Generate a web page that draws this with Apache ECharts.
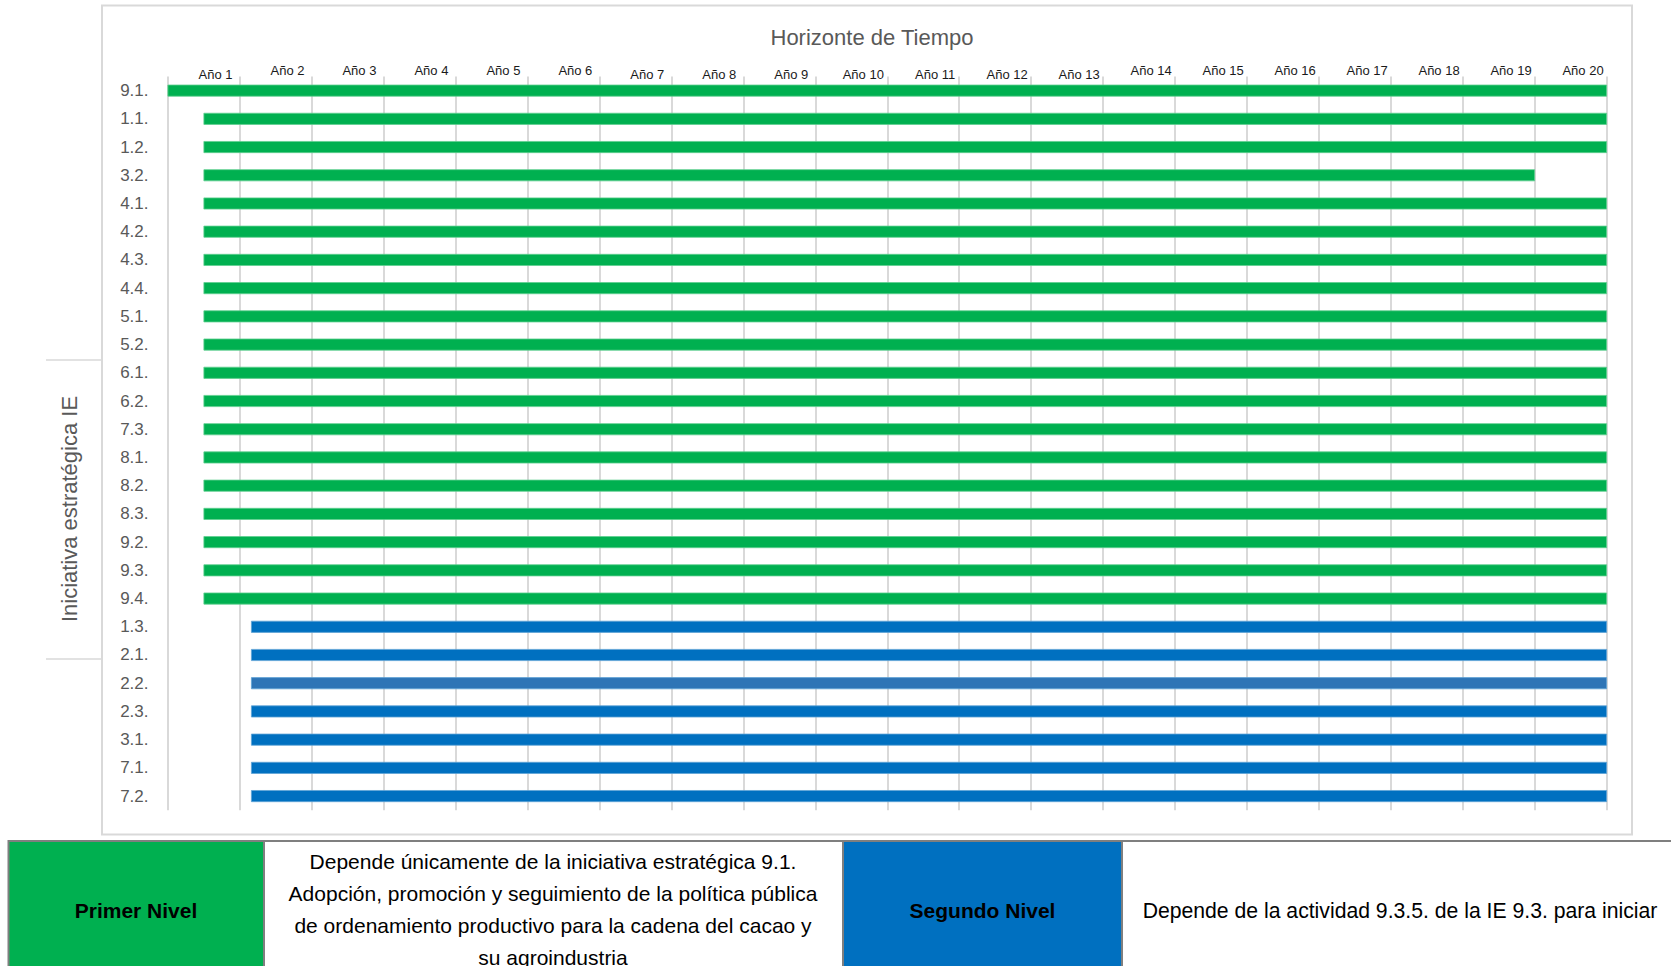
<!DOCTYPE html>
<html>
<head>
<meta charset="utf-8">
<title>Horizonte de Tiempo</title>
<script src="https://cdn.jsdelivr.net/npm/echarts@6/dist/echarts.min.js"></script>
<style>
    html, body {margin: 0; padding: 0; background: #fff;}
    #chart {width: 1671px; height: 966px;}
</style>
</head>
<body>
<div id="chart"></div>
<script>
    // iniciativas estrategicas, de arriba hacia abajo
    var iniciativas = ['9.1.', '1.1.', '1.2.', '3.2.', '4.1.', '4.2.', '4.3.', '4.4.', '5.1.', '5.2.',
        '6.1.', '6.2.', '7.3.', '8.1.', '8.2.', '8.3.', '9.2.', '9.3.', '9.4.',
        '1.3.', '2.1.', '2.2.', '2.3.', '3.1.', '7.1.', '7.2.'];
    // 1 = Primer Nivel, 2 = Segundo Nivel
    var nivel = [1, 1, 1, 1, 1, 1, 1, 1, 1, 1, 1, 1, 1, 1, 1, 1, 1, 1, 1,
        2, 2, 2, 2, 2, 2, 2];
    // inicio y fin en años
    var inicio = [0, 0.5, 0.5, 0.5, 0.5, 0.5, 0.5, 0.5, 0.5, 0.5, 0.5, 0.5, 0.5, 0.5, 0.5, 0.5, 0.5, 0.5, 0.5,
        1.16, 1.16, 1.16, 1.16, 1.16, 1.16, 1.16];
    var fin = [20, 20, 20, 19, 20, 20, 20, 20, 20, 20, 20, 20, 20, 20, 20, 20, 20, 20, 20,
        20, 20, 20, 20, 20, 20, 20];
    var anios = ['Año 1', 'Año 2', 'Año 3', 'Año 4', 'Año 5', 'Año 6', 'Año 7', 'Año 8', 'Año 9', 'Año 10',
        'Año 11', 'Año 12', 'Año 13', 'Año 14', 'Año 15', 'Año 16', 'Año 17', 'Año 18', 'Año 19', 'Año 20'];

    var verde = '#00b050';
    var azul = '#0070c0';
    var font = 'Liberation Sans, Arial, sans-serif';

    //etiquetas de año que van un poco mas abajo
    var bajos = {0: true, 6: true, 7: true, 8: true, 9: true, 10: true, 11: true, 12: true};

    var primer = [];
    var segundo = [];
    for (var i = 0; i < iniciativas.length; i++) {
        var dur = fin[i] - inicio[i];
        if (nivel[i] == 1) {
            primer.push(dur);
            segundo.push('-');
        } else {
            primer.push('-');
            if (iniciativas[i] == '2.2.') {
                segundo.push({value: dur, itemStyle: {color: '#2e75b6'}});
            } else {
                segundo.push(dur);
            }
        }
    }

    function anioAxis (abajo) {
        return {
            type: 'category',
            position: 'top',
            data: anios,
            boundaryGap: true,
            axisLine: {show: false},
            axisTick: {show: false},
            splitLine: {show: false},
            axisLabel: {
                interval: 0,
                margin: abajo ? -4 : 0,
                padding: [0, 0, 0, 24],
                color: '#1a1a1a',
                fontSize: 13,
                fontFamily: font,
                formatter: function (v, idx) {
                    return (!!bajos[idx]) == abajo ? v : '';
                }
            }
        };
    }

    var chart = echarts.init(document.getElementById('chart'), null, {renderer: 'svg'});
    var option = {
        animation: false,
        title: {
            text: 'Horizonte de Tiempo',
            left: 867,
            top: 21,
            textAlign: 'center',
            textStyle: {color: '#595959', fontSize: 22, fontWeight: 'normal', fontFamily: font}
        },
        grid: {
            left: 167.5,
            right: 64,
            top: 76.5,
            bottom: 155.8,
            outerBoundsMode: 'none'
        },
        xAxis: [
            {
                type: 'value',
                min: 0,
                max: 20,
                interval: 1,
                axisLine: {show: false},
                axisTick: {show: false},
                axisLabel: {show: false},
                splitLine: {show: true, lineStyle: {color: '#d9d9d9', width: 2}}
            },
            anioAxis(false),
            anioAxis(true)
        ],
        yAxis: {
            type: 'category',
            data: iniciativas,
            inverse: true,
            axisLine: {show: false},
            axisTick: {show: false},
            axisLabel: {color: '#595959', fontSize: 17, fontFamily: font, margin: 19}
        },
        series: [
            {
                name: 'base',
                type: 'bar',
                stack: 'gantt',
                silent: true,
                barWidth: 12,
                itemStyle: {color: 'transparent'},
                data: inicio
            },
            {
                name: 'Primer Nivel',
                type: 'bar',
                stack: 'gantt',
                barWidth: 12,
                itemStyle: {color: verde, borderColor: '#5fcf8f', borderWidth: 0.8},
                data: primer
            },
            {
                name: 'Segundo Nivel',
                type: 'bar',
                stack: 'gantt',
                barWidth: 12,
                itemStyle: {color: azul, borderColor: '#5fa3d6', borderWidth: 0.8},
                data: segundo
            }
        ],
        graphic: [
            //marco del grafico
            {type: 'rect', shape: {x: 102, y: 5.5, width: 1530, height: 829}, style: {fill: 'none', stroke: '#d9d9d9', lineWidth: 2}},
            //nombre del eje y
            {type: 'line', shape: {x1: 46, y1: 360, x2: 102, y2: 360}, style: {stroke: '#d9d9d9', lineWidth: 1.5}},
            {type: 'line', shape: {x1: 46, y1: 659, x2: 102, y2: 659}, style: {stroke: '#d9d9d9', lineWidth: 1.5}},
            {
                type: 'text', x: 69, y: 509, rotation: Math.PI / 2,
                style: {text: 'Iniciativa estratégica IE', align: 'center', verticalAlign: 'middle', fontSize: 22, fontFamily: font, fill: '#595959'}
            },
            //tabla de niveles
            {type: 'rect', shape: {x: 8.5, y: 841, width: 255.5, height: 140}, style: {fill: verde, stroke: '#7f7f7f', lineWidth: 2}},
            {type: 'rect', shape: {x: 264, y: 841, width: 579, height: 140}, style: {fill: '#fff', stroke: '#7f7f7f', lineWidth: 2}},
            {type: 'rect', shape: {x: 843, y: 841, width: 279, height: 140}, style: {fill: azul, stroke: '#7f7f7f', lineWidth: 2}},
            {type: 'rect', shape: {x: 1122, y: 841, width: 560, height: 140}, style: {fill: '#fff', stroke: '#7f7f7f', lineWidth: 2}},
            {
                type: 'text', x: 136, y: 910,
                style: {text: 'Primer Nivel', align: 'center', verticalAlign: 'middle', fontSize: 21, fontWeight: 'bold', fontFamily: font, fill: '#000'}
            },
            {
                type: 'text', x: 553, y: 909.5,
                style: {
                    text: 'Depende únicamente de la iniciativa estratégica 9.1.\nAdopción, promoción y seguimiento de la política pública\nde ordenamiento productivo para la cadena del cacao y\nsu agroindustria',
                    align: 'center', verticalAlign: 'middle', lineHeight: 31.7, fontSize: 21, fontFamily: font, fill: '#000'
                }
            },
            {
                type: 'text', x: 982.5, y: 910,
                style: {text: 'Segundo Nivel', align: 'center', verticalAlign: 'middle', fontSize: 21, fontWeight: 'bold', fontFamily: font, fill: '#000'}
            },
            {
                type: 'text', x: 1400, y: 910,
                style: {text: 'Depende de la actividad 9.3.5. de la IE 9.3. para iniciar', align: 'center', verticalAlign: 'middle', fontSize: 21.2, fontFamily: font, fill: '#000'}
            }
        ]
    };
    chart.setOption(option);
</script>
</body>
</html>
